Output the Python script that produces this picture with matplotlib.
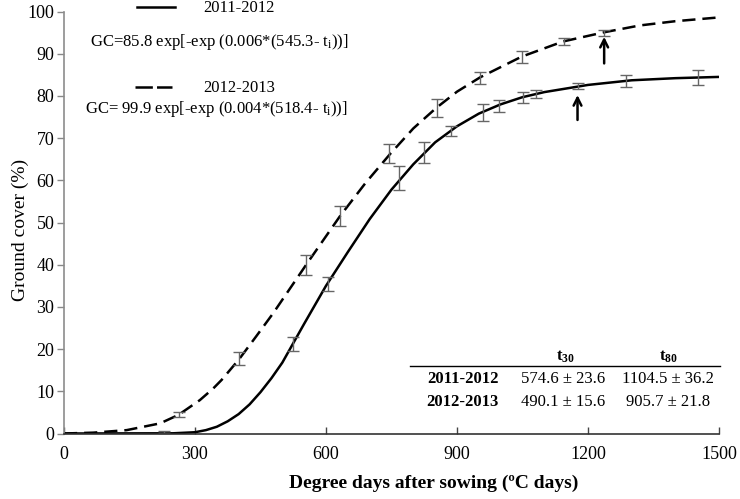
import matplotlib
matplotlib.use("Agg")
import matplotlib.pyplot as plt
from matplotlib.lines import Line2D

plt.rcParams['font.family'] = ['Liberation Serif', 'DejaVu Serif']
plt.rcParams['mathtext.fontset'] = 'custom'
plt.rcParams['mathtext.rm'] = 'Liberation Serif'
plt.rcParams['mathtext.it'] = 'Liberation Serif:italic'
plt.rcParams['mathtext.bf'] = 'Liberation Serif:bold'
plt.rcParams['lines.scale_dashes'] = False

# ---- fitted curves ----
curve1_x = [0, 250, 300, 325, 350, 375, 400, 425, 450, 475, 500, 550, 600, 650, 700,
            750, 800, 850, 900, 950, 1000, 1050, 1100, 1200, 1300, 1400, 1500]
curve1_y = [0, 0.05, 0.3, 0.8, 1.6, 2.9, 4.6, 6.9, 9.8, 13.1, 16.8, 26.0, 35.0, 43.0, 50.8,
            57.8, 63.8, 69.0, 72.8, 75.8, 78.0, 79.7, 80.9, 82.6, 83.7, 84.2, 84.5]
curve2_x = [0, 67, 143.6, 220, 262, 311, 342, 361, 401, 440, 479, 554, 632, 690, 746.5,
            800, 853, 900, 953, 1048, 1143, 1238, 1319, 1400, 1500]
curve2_y = [0, 0.2, 0.8, 2.4, 4.4, 7.9, 10.7, 12.7, 17.6, 23.0, 28.5, 39.9, 51.5, 59.3, 66.2,
            72.3, 77.2, 81.0, 84.4, 89.3, 92.9, 95.1, 96.7, 97.7, 98.6]

# ---- observed means and error bars ----
obs1_x = [228, 524, 605, 768, 824, 886, 959, 996, 1050, 1081, 1176, 1287, 1451]
obs1_y = [0.4, 21.2, 35.5, 60.6, 66.6, 71.7, 76.0, 77.7, 79.6, 80.4, 82.4, 83.5, 84.4]
obs1_e = [0.3, 1.7, 1.65, 2.8, 2.4, 1.2, 2.0, 1.4, 1.3, 1.0, 0.75, 1.5, 1.7]
obs2_x = [264, 401, 554, 632, 745, 855, 953, 1048, 1146, 1237]
obs2_y = [4.5, 17.7, 40.0, 51.6, 66.4, 77.1, 84.3, 89.2, 92.9, 94.9]
obs2_e = [0.5, 1.5, 2.4, 2.4, 2.2, 2.2, 1.4, 1.4, 0.9, 0.7]

# ---- arrows ----
arrow_x = [1176, 1237]
arrow_y0 = [74.3, 87.7]
arrow_y1 = [80.2, 94.0]

# ---- table ----
seasons = ['2011-2012', '2012-2013']
t30_mean = [574.6, 490.1]
t30_se = [23.6, 15.6]
t80_mean = [1104.5, 905.7]
t80_se = [36.2, 21.8]

equations = [r"GC=85.8 exp[-exp (0.006*(545.3- t$_{\rm i}$))]",
             r"GC= 99.9 exp[-exp (0.004*(518.4- t$_{\rm i}$))]"]

xticks = [0, 300, 600, 900, 1200, 1500]
yticks = list(range(0, 101, 10))

W, H = 740, 499
fig = plt.figure(figsize=(W / 100, H / 100), dpi=100)
ax = fig.add_axes([64 / W, 1 - 433.5 / H, (719 - 64) / W, (433.5 - 11.5) / H])

ax.plot(curve1_x, curve1_y, color='black', lw=1.8, solid_joinstyle='round')
ax.plot(curve2_x, curve2_y, color='black', lw=1.8, dashes=(9.5, 5.0))

ekw = dict(fmt='none', ecolor='#666666', elinewidth=1.0, capsize=4.3, capthick=1.0)
ax.errorbar(obs1_x, obs1_y, yerr=obs1_e, **ekw)
ax.errorbar(obs2_x, obs2_y, yerr=obs2_e, **ekw)

for xa, ya0, ya1 in zip(arrow_x, arrow_y0, arrow_y1):
    ax.annotate('', xy=(xa, ya1), xytext=(xa, ya0),
                arrowprops=dict(arrowstyle='->', color='black', lw=1.8,
                                mutation_scale=14, shrinkA=0, shrinkB=0))

ax.set_xlim(0, 1500)
ax.set_ylim(0, 100)
ax.set_xticks(xticks)
ax.set_yticks(yticks)
ax.tick_params(axis='x', direction='in', length=5, width=1, color='#444444',
               labelsize=13, pad=9)
ax.tick_params(axis='y', direction='out', length=5, width=1, color='#888888',
               labelsize=13, pad=2)
for s in ['top', 'right']:
    ax.spines[s].set_visible(False)
ax.spines['left'].set_color('#8c8c8c')
ax.spines['left'].set_linewidth(1.2)
ax.spines['bottom'].set_color('#333333')
ax.spines['bottom'].set_linewidth(1.2)

fig.text(434 / W, 1 - 483 / H, 'Degree days after sowing (ºC days)', fontsize=14,
         fontweight='bold', ha='center', va='center')
fig.text(20 / W, 1 - 230 / H, 'Ground cover (%)', fontsize=14, rotation=90,
         ha='center', va='center')

# legend block
def fx(px):
    return px / W

def fy(py):
    return 1 - py / H

fig.add_artist(Line2D([fx(137), fx(175)], [fy(7.3), fy(7.3)], color='black', lw=1.8))
fig.add_artist(Line2D([fx(135), fx(172)], [fy(87.3), fy(87.3)], color='black', lw=1.8,
                      dashes=(12.5, 3.0)))
fig.text(fx(203), fy(7.5), seasons[0], fontsize=12, ha='left', va='center')
fig.text(fx(203), fy(87.5), seasons[1], fontsize=12, ha='left', va='center')
fig.text(fx(90), fy(41.7), equations[0], fontsize=12, ha='left', va='center')
fig.text(fx(85), fy(109), equations[1], fontsize=12, ha='left', va='center')

# table
fig.text(fx(565), fy(357), r"$\mathbf{t_{30}}$", fontsize=12, ha='center', va='center')
fig.text(fx(668), fy(357), r"$\mathbf{t_{80}}$", fontsize=12, ha='center', va='center')
fig.add_artist(Line2D([fx(410), fx(720)], [fy(365.7), fy(365.7)], color='black', lw=1.0))
row_y = [379.3, 401.7]
for i, s in enumerate(seasons):
    fig.text(fx(462.5), fy(row_y[i]), s, fontsize=12, fontweight='bold',
             ha='center', va='center')
    fig.text(fx(563), fy(row_y[i]), f"{t30_mean[i]:.1f} ± {t30_se[i]:.1f}",
             fontsize=12, ha='center', va='center')
    fig.text(fx(668), fy(row_y[i]), f"{t80_mean[i]:.1f} ± {t80_se[i]:.1f}",
             fontsize=12, ha='center', va='center')

fig.savefig('out.png', dpi=100)
